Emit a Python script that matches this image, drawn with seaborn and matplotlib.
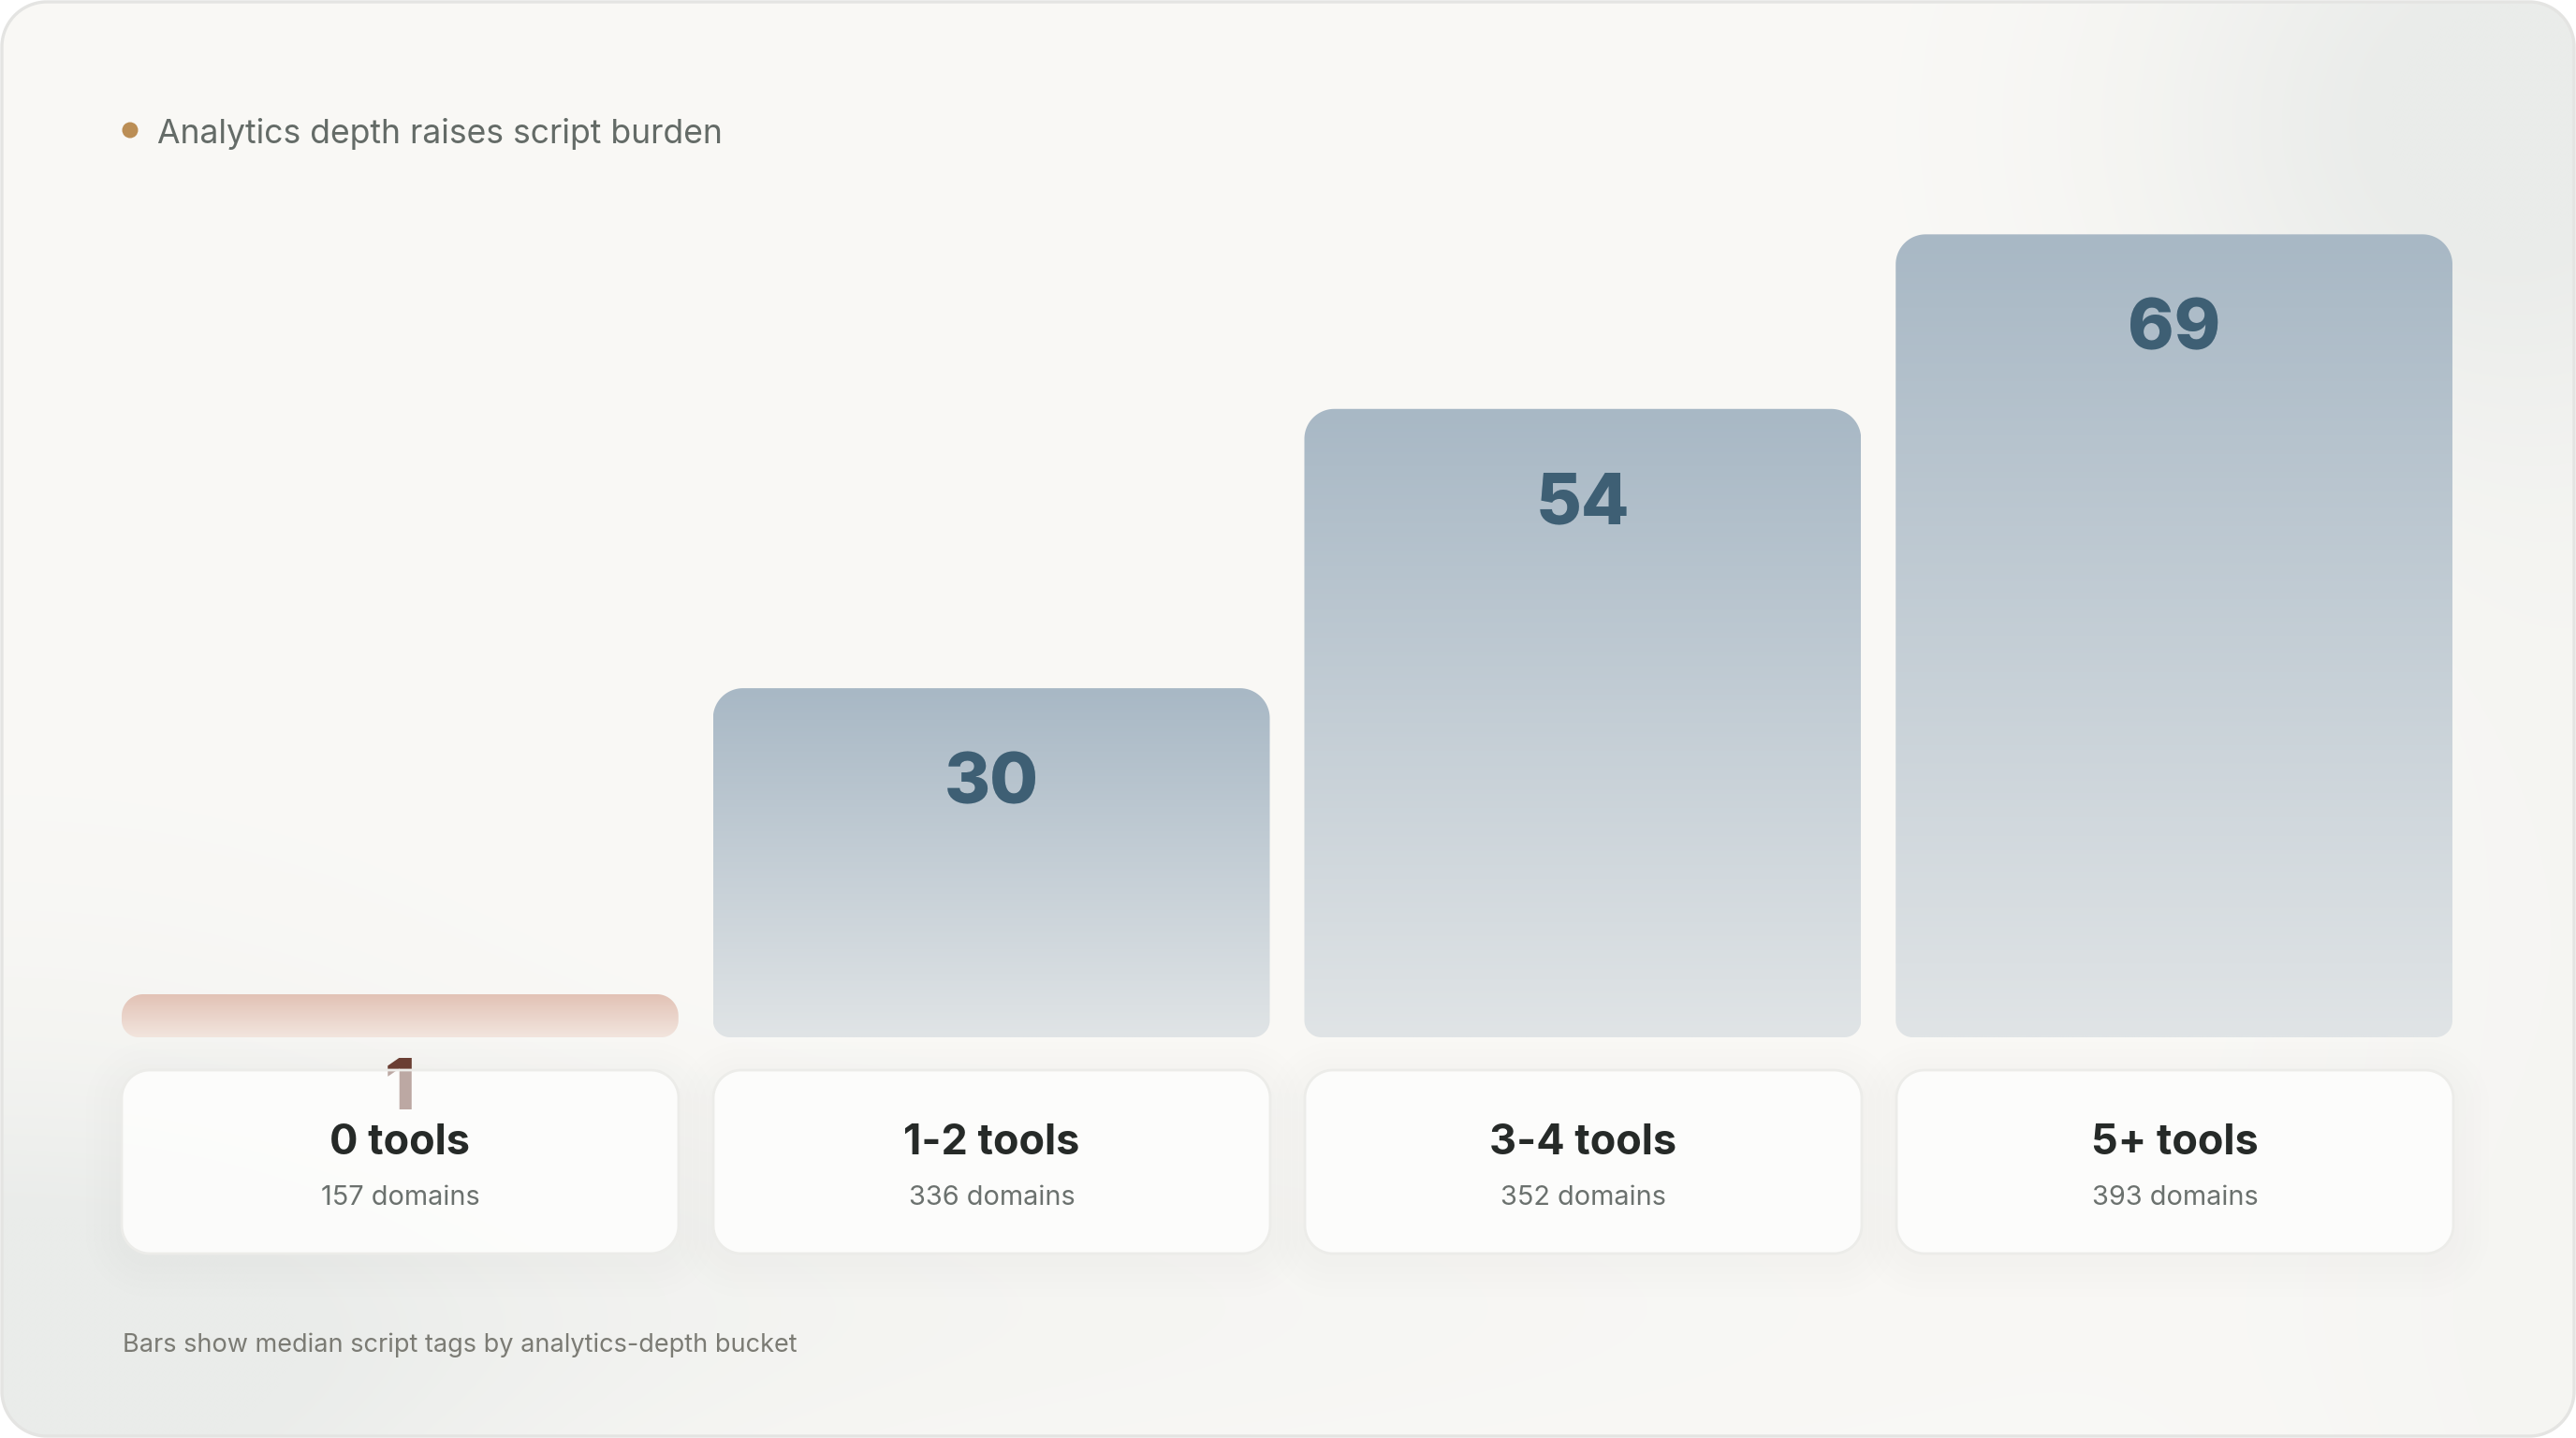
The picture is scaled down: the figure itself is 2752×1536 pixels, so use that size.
import numpy as np
import pandas as pd
import matplotlib
matplotlib.use("Agg")
import matplotlib.pyplot as plt
import seaborn as sns
from matplotlib.path import Path
from matplotlib.patches import PathPatch, Circle
from matplotlib.transforms import Affine2D
from matplotlib.colors import to_rgb

# ---------------- data ----------------
categories = ["0 tools", "1-2 tools", "3-4 tools", "5+ tools"]
median_tags = [1, 30, 54, 69]
domains = [157, 336, 352, 393]
domain_labels = [f"{d} domains" for d in domains]
title = "Analytics depth raises script burden"
footnote = "Bars show median script tags by analytics-depth bucket"

# ---------------- setup ----------------
W, H, DPI = 2752, 1536, 200
sns.set_theme(style="white")
plt.rcParams['font.family'] = ['Inter', 'DejaVu Sans']

fig = plt.figure(figsize=(W / DPI, H / DPI), dpi=DPI, facecolor="white")
px = Affine2D().scale(1 / W, -1 / H).translate(0, 1) + fig.transFigure


def rrect(x0, y0, x1, y1, rtx, rty, rbx, rby, n=28):
    pts = []
    def arc(cx, cy, rx, ry, a0, a1):
        t = np.linspace(np.radians(a0), np.radians(a1), n)
        return np.column_stack([cx + rx * np.cos(t), cy + ry * np.sin(t)])
    pts.append(arc(x0 + rbx, y0 + rby, rbx, rby, 180, 270))
    pts.append(arc(x1 - rbx, y0 + rby, rbx, rby, 270, 360))
    pts.append(arc(x1 - rtx, y1 - rty, rtx, rty, 0, 90))
    pts.append(arc(x0 + rtx, y1 - rty, rtx, rty, 90, 180))
    v = np.vstack(pts)
    v = np.vstack([v, v[:1]])
    codes = [Path.MOVETO] + [Path.LINETO] * (len(v) - 2) + [Path.CLOSEPOLY]
    return Path(v, codes)


# ---------------- background ----------------
ax_bg = fig.add_axes([0, 0, 1, 1])
ax_bg.set_xlim(0, W)
ax_bg.set_ylim(H, 0)
ax_bg.axis("off")

gh, gw = 192, 344
yy, xx = np.mgrid[0:H:gh * 1j, 0:W:gw * 1j]
base = np.array([250, 249, 246], float) / 255
gray = np.array([234, 236, 234], float) / 255
wgt = np.zeros_like(xx)
wgt += 0.9 * np.exp(-(((xx - 2650) / 380) ** 2 + ((yy - 130) / 330) ** 2))
wgt += 0.9 * np.exp(-(((xx - 0) / 520) ** 2 + ((yy - 1536) / 420) ** 2))
wgt += 0.45 * np.exp(-(((yy - 1400) / 200) ** 2)) * np.exp(-((xx / 1700) ** 2))
wgt += 0.25 * np.exp(-(((xx - 2752) / 300) ** 2))
wgt = np.clip(wgt, 0, 1)
img = base[None, None, :] * (1 - wgt[..., None]) + gray[None, None, :] * wgt[..., None]
frame = PathPatch(rrect(2, 2, W - 2, H - 2, 48, 48, 48, 48), facecolor="none",
                  edgecolor="#e4e4e2", lw=1.2, transform=ax_bg.transData)
ax_bg.add_patch(frame)
bgim = ax_bg.imshow(img, extent=(0, W, H, 0), interpolation="bilinear", aspect="auto")
bgim.set_clip_path(frame)

# title
ax_bg.add_patch(Circle((139, 139), 8.5, color="#bb8e55", lw=0))
ax_bg.text(168, 153, title, fontsize=12.8, color="#646b67", va="baseline", ha="left")
ax_bg.text(131, 1444, footnote, fontsize=9.75, color="#7b7b74", va="baseline", ha="left")

# ---------------- bars ----------------
bar_left, bar_right, base_y = 130, 2620, 1108
pitch = 632
bw = 595 / pitch
ppu_y = 12.43
ymax = 80
ax = fig.add_axes([bar_left / W, (H - base_y) / H, (bar_right - bar_left) / W, ymax * ppu_y / H])
ax.patch.set_alpha(0)
df = pd.DataFrame({"bucket": categories, "tags": median_tags})
sns.barplot(data=df, x="bucket", y="tags", width=bw, ax=ax, color="#a9b8c5")
ax.set_xlim(-bw / 2, len(categories) - 1 + bw / 2)
ax.set_ylim(0, ymax)
ax.axis("off")

min_h = 46 / ppu_y
top_r, bot_r = 32, 18
label_offset = 123 / ppu_y

for i, p in enumerate(list(ax.patches)):
    x0, w, h = p.get_x(), p.get_width(), p.get_height()
    p.set_visible(False)
    hd = max(h, min_h)
    rt_px = min(top_r, hd * ppu_y / 2)
    rb_px = min(bot_r, hd * ppu_y / 2)
    path = rrect(x0, 0, x0 + w, hd, rt_px / pitch, rt_px / ppu_y, rb_px / pitch, rb_px / ppu_y)
    patch = PathPatch(path, facecolor="none", edgecolor="none", transform=ax.transData)
    ax.add_patch(patch)
    if i == 0:
        ctop, cbot, tcol = "#e2c2b5", "#f2e5de", "#6b3e33"
    else:
        ctop, cbot, tcol = "#a8b8c5", "#e0e4e6", "#3e5f74"
    t = np.linspace(0, 1, 256)[:, None]
    grad = np.array(to_rgb(ctop))[None, None, :] * (1 - t[..., None]) + np.array(to_rgb(cbot))[None, None, :] * t[..., None]
    grad = np.repeat(grad, 2, axis=1)
    im = ax.imshow(grad, extent=(x0, x0 + w, 0, hd), aspect="auto", interpolation="bilinear", zorder=2)
    im.set_clip_path(patch)
    ax.text(x0 + w / 2, hd - label_offset, f"{median_tags[i]}", ha="center", va="baseline",
            fontsize=27, fontweight="heavy", color=tcol, zorder=4, clip_on=False)

    # card (pixel coords)
    cx0 = bar_left + (x0 - (-bw / 2)) * pitch
    cx1 = cx0 + w * pitch
    cy0, cy1 = 1143, 1339
    for k in range(5):
        e = 6 + k * 8
        sh = PathPatch(rrect(cx0 - e, cy0 - e + 8, cx1 + e, cy1 + e + 8, 30 + e, 30 + e, 30 + e, 30 + e),
                       facecolor="#8a8a80", edgecolor="none", alpha=0.006, transform=px, clip_on=False, zorder=5)
        ax.add_patch(sh)
    card = PathPatch(rrect(cx0, cy0, cx1, cy1, 30, 30, 30, 30), facecolor="#fefefd", alpha=0.9,
                     edgecolor="none", transform=px, clip_on=False, zorder=6)
    ax.add_patch(card)
    cedge = PathPatch(rrect(cx0, cy0, cx1, cy1, 30, 30, 30, 30), facecolor="none",
                      edgecolor="#ecece9", lw=1.0, transform=px, clip_on=False, zorder=6.1)
    ax.add_patch(cedge)
    # value label showing faintly through the card when it overlaps it
    ghost = ax.text(x0 + w / 2, hd - label_offset, f"{median_tags[i]}", ha="center", va="baseline",
                    fontsize=27, fontweight="heavy", color=tcol, alpha=0.38, zorder=6.05)
    ghost.set_clip_path(card)
    ccx = (cx0 + cx1) / 2
    ax.text(ccx, 1233, categories[i], transform=px, ha="center", va="baseline", fontsize=16.2,
            fontweight="bold", color="#262a28", zorder=7, clip_on=False)
    ax.text(ccx, 1287, domain_labels[i], transform=px, ha="center", va="baseline", fontsize=10.4,
            color="#6b716e", zorder=7, clip_on=False)

fig.savefig("out.png", dpi=DPI, facecolor="white")
